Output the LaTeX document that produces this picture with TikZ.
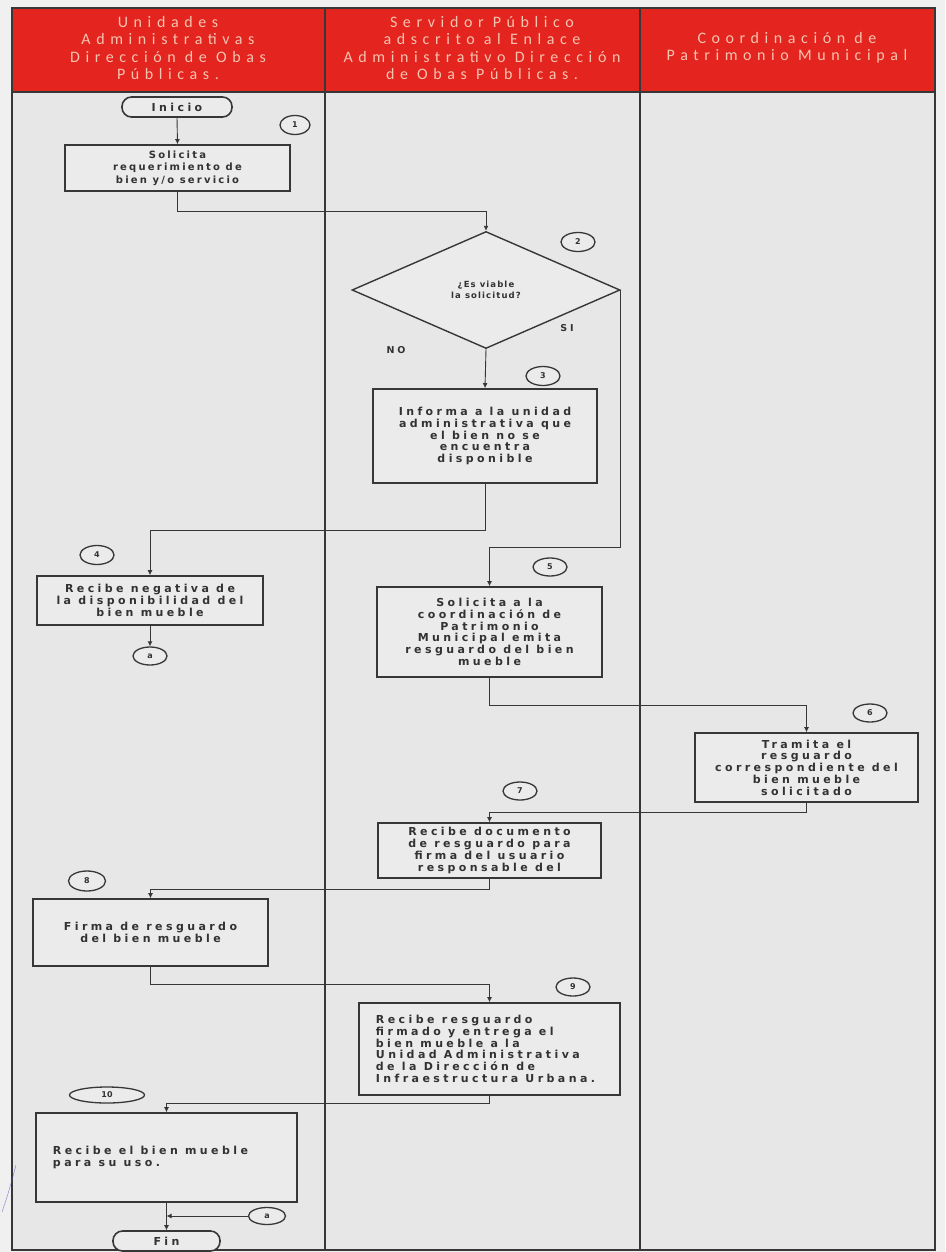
\documentclass[tikz,border=0pt]{standalone}
\usepackage{fontspec}
\setmainfont{DejaVu Sans}
\newfontfamily\boxfont[LetterSpace=31]{DejaVu Sans}
\newfontfamily\boxfontb[LetterSpace=22]{DejaVu Sans}
\newfontfamily\boxfontc[LetterSpace=13]{DejaVu Sans}
\newfontfamily\headfont[LetterSpace=35]{Carlito}
\usetikzlibrary{shapes.geometric,arrows.meta}
\definecolor{hdrred}{RGB}{228,36,30}
\definecolor{hdrtxt}{RGB}{246,196,176}
\definecolor{bgcol}{RGB}{231,231,231}
\definecolor{outcol}{RGB}{240,240,240}
\definecolor{boxfill}{RGB}{235,235,235}
\definecolor{linecol}{RGB}{55,55,55}
\definecolor{textcol}{RGB}{50,50,50}
\tikzset{
  proc/.style={draw=linecol, line width=1.6pt, fill=boxfill, align=center, inner sep=2pt,
    text=textcol, font={\boxfont\bfseries\fontsize{11}{11.7}\selectfont}},
  numc/.style={draw=linecol, ellipse, line width=1.3pt, fill=boxfill, inner sep=0pt,
    minimum width=34pt, minimum height=19pt, text=textcol,
    font={\bfseries\fontsize{8}{9}\selectfont}},
  term/.style={draw=linecol, rectangle, rounded corners=9.5pt, line width=1.6pt, fill=boxfill,
    inner sep=0pt, minimum height=20pt, text=textcol,
    font={\boxfont\bfseries\fontsize{11}{12}\selectfont}},
  dec/.style={draw=linecol, diamond, line width=1.4pt, fill=boxfill, inner sep=0pt,
    minimum width=268pt, minimum height=117pt, align=center, text=textcol,
    font={\boxfontc\bfseries\fontsize{8.5}{10.5}\selectfont}},
  arr/.style={draw=linecol, line width=0.9pt, -{Latex[length=5pt,width=5pt]}},
  hdr/.style={align=center, text=hdrtxt, font={\headfont\fontsize{16}{17.3}\selectfont}},
  lbl/.style={text=textcol, font={\boxfont\bfseries\fontsize{9.5}{10}\selectfont}}
}
\begin{document}
\begin{tikzpicture}[x=1pt,y=-1pt]
\useasboundingbox (0,0) rectangle (945,1252);
\fill[outcol] (0,0) rectangle (945,1252);
\fill[bgcol] (12,8) rectangle (935,1250);
\fill[hdrred] (12,8) rectangle (935,92);
\draw[linecol, line width=1.2pt] (12,8) rectangle (935,1250);
\draw[linecol, line width=1.2pt] (12,92) -- (935,92);
\draw[linecol, line width=1.2pt] (325,8) -- (325,1250);
\draw[linecol, line width=1.2pt] (640,8) -- (640,1250);
\draw[blue!40!gray, line width=0.5pt, opacity=0.6] (2,1212) .. controls (8,1195) and (12,1180) .. (16,1165);

% headers
\node[hdr] (h1) at (168,48) {Unidades\\Administrativas\\Dirección de Obas\\Públicas.};
\node[hdr] (h2) at (482,48) {Servidor Público\\adscrito al Enlace\\Administrativo Dirección\\de Obas Públicas.};
\node[hdr] (h3) at (787,48) {Coordinación de\\Patrimonio Municipal};

% nodes
\node[term, minimum width=110pt] (ini) at (177,107) {Inicio};
\node[numc, minimum width=30pt] (c1) at (295,125) {1};
\node[proc, minimum width=225pt, minimum height=46pt, font={\boxfontb\bfseries\fontsize{10}{12.5}\selectfont}] (b1) at (177.5,168) {Solicita\\requerimiento de\\bien y/o servicio};

\node[dec] (d2) at (486,290) {¿Es viable\\la solicitud?};
\node[numc] (c2) at (578,242) {2};
\node[lbl] (si) at (567,328) {SI};
\node[lbl] (no) at (396,350) {NO};

\node[numc] (c3) at (543,376) {3};
\node[proc, minimum width=224pt, minimum height=94pt] (b3) at (485,436) {Informa a la unidad\\administrativa que\\el bien no se\\encuentra\\disponible};

\node[numc] (c4) at (97,555) {4};
\node[proc, minimum width=226pt, minimum height=49pt] (b4) at (150,600.5) {Recibe negativa de\\la disponibilidad del\\bien mueble};
\node[numc, minimum height=18pt] (a1) at (150,656) {a};

\node[numc, minimum height=18pt] (c5) at (550,567) {5};
\node[proc, minimum width=225pt, minimum height=90pt] (b5) at (489.5,632) {Solicita a la\\coordinación de\\Patrimonio\\Municipal emita\\resguardo del bien\\mueble};

\node[numc, minimum height=18pt] (c6) at (870,713) {6};
\node[proc, minimum width=223pt, minimum height=69pt] (b6) at (806.5,767.5) {Tramita el\\resguardo\\correspondiente del\\bien mueble\\solicitado};

\node[numc, minimum height=18pt] (c7) at (520,791) {7};
\node[proc, minimum width=223pt, minimum height=55pt] (b7) at (489.5,850.5) {Recibe documento\\de resguardo para\\firma del usuario\\responsable del};

\node[numc, minimum width=37pt, minimum height=20pt] (c8) at (87,881) {8};
\node[proc, minimum width=235pt, minimum height=67pt] (b8) at (150.5,932.5) {Firma de resguardo\\del bien mueble};

\node[numc, minimum height=18pt] (c9) at (573,987) {9};
\node[proc, align=left, minimum width=261pt, minimum height=92pt] (b9) at (489.5,1049) {Recibe resguardo\\firmado y entrega el\\bien mueble a la\\Unidad Administrativa\\de la Dirección de\\Infraestructura Urbana.\hspace*{8pt}};

\node[numc, minimum width=75pt, minimum height=16pt] (c10) at (107,1095) {10};
\node[proc, align=left, minimum width=261pt, minimum height=89pt] (b10) at (166.5,1157.5) {Recibe el bien mueble\hspace*{32pt}\\para su uso.};
\node[numc, minimum width=37pt, minimum height=17pt] (a2) at (267,1216) {a};
\node[term, minimum width=107pt] (fin) at (166.5,1241) {Fin};

% connectors
\draw[arr] (ini.south) -- (b1.north);
\draw[arr] (b1.south) -- ++(0,20) -| (d2.north);
\draw[arr] (d2.south) -- (b3.north);
\draw[arr] (d2.east) -- ++(0,257) -| (b5.north);
\draw[arr] (b3.south) -- ++(0,47) -| (b4.north);
\draw[arr] (b4.south) -- (a1.north);
\draw[arr] (b5.south) -- ++(0,28) -| (b6.north);
\draw[arr] (b6.south) -- ++(0,10) -| (b7.north);
\draw[arr] (b7.south) -- ++(0,11) -| (b8.north);
\draw[arr] (b8.south) -- ++(0,18) -| (b9.north);
\draw[arr] (b9.south) -- ++(0,8) -| (b10.north);
\draw[arr] (b10.south) -- (fin.north);
\draw[arr] (a2.west) -- (a2.west -| b10.south);
\end{tikzpicture}
\end{document}
